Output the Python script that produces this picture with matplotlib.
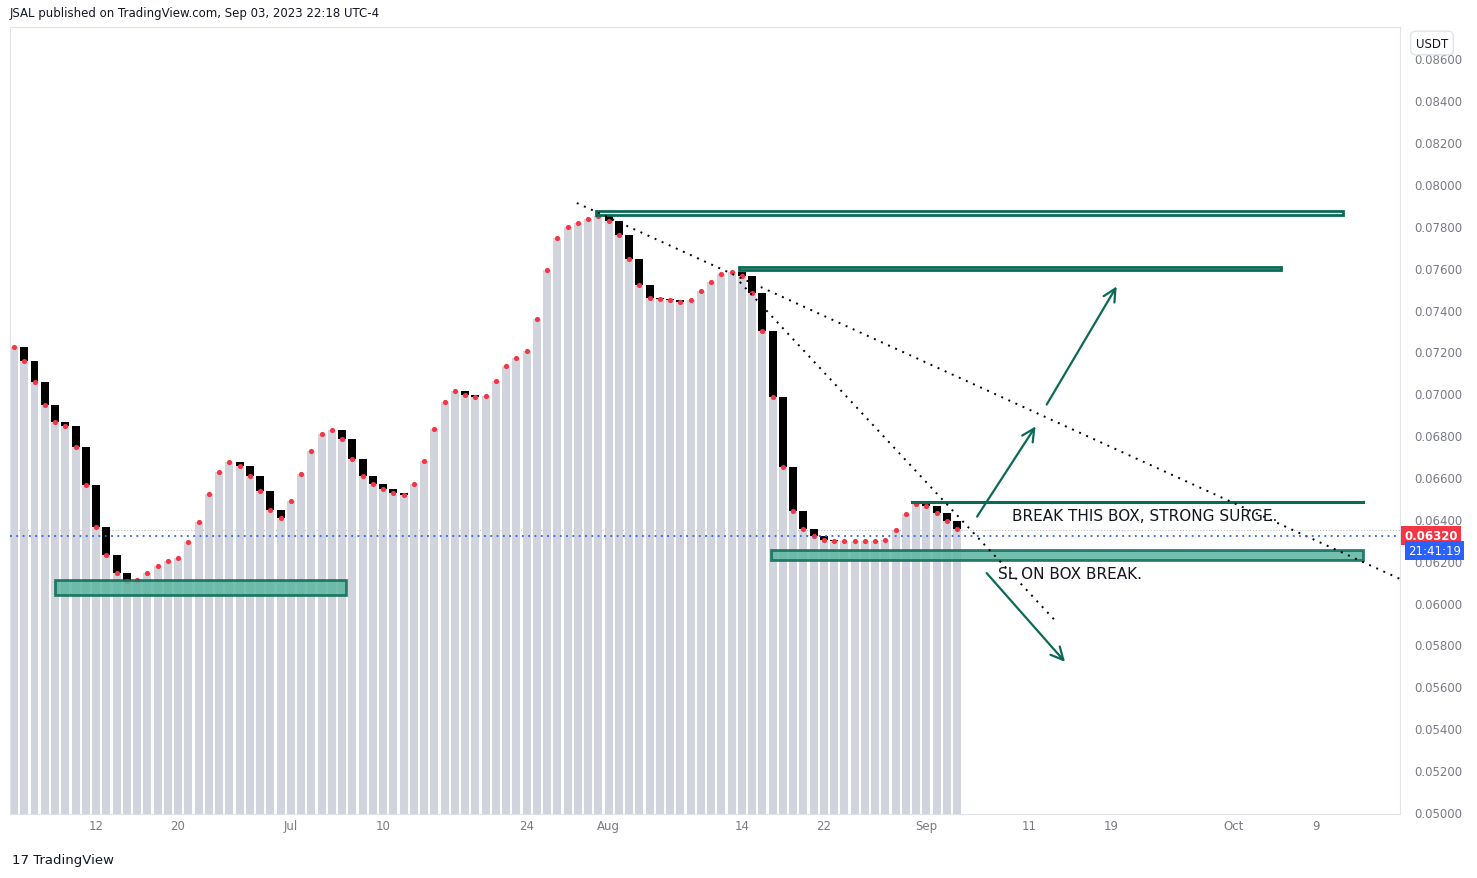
import matplotlib
matplotlib.use("Agg")
import matplotlib.pyplot as plt
from matplotlib.patches import Rectangle, FancyBboxPatch
import numpy as np

# day index relative to Jun 12, 2023
start_day = -8
closes = [0.07221,0.07154,0.07054,0.06944,0.06863,0.06844,0.06744,0.06562,0.06361,0.06228,
          0.06142,0.06103,0.06108,0.06142,0.06175,0.06199,0.06213,0.06290,0.06385,0.06519,
          0.06624,0.06672,0.06653,0.06605,0.06533,0.06443,0.06404,0.06486,0.06615,0.06725,
          0.06806,0.06825,0.06782,0.06686,0.06605,0.06567,0.06543,0.06524,0.06514,0.06567,
          0.06677,0.06830,0.06959,0.07011,0.06992,0.06982,0.06987,0.07059,0.07131,0.07169,
          0.07202,0.07355,0.07589,0.07742,0.07795,0.07814,0.07833,0.07847,0.07823,0.07756,
          0.07642,0.07518,0.07455,0.07450,0.07446,0.07436,0.07446,0.07489,0.07532,0.07570,
          0.07580,0.07560,0.07479,0.07298,0.06982,0.06648,0.06438,0.06352,0.06318,0.06299,
          0.06295,0.06295,0.06295,0.06295,0.06295,0.06299,0.06347,0.06424,0.06471,0.06462,
          0.06428,0.06390,0.06352]
opens = [closes[0]] + closes[:-1]
tick_days = [0, 8, 19, 28, 42, 50, 63, 71, 81, 91, 99, 111, 119]
tick_labels = ["12", "20", "Jul", "10", "24", "Aug", "14", "22", "Sep", "11", "19", "Oct", "9"]
price_ticks = np.arange(0.050, 0.0861, 0.002)
last_price = 0.06320

GRAY = "#d1d4dc"; GREEN_E = "#0b6a55"; GREEN_F = "#5cb5a2"

fig = plt.figure(figsize=(14.77, 8.79), dpi=100)
ax = fig.add_axes([10/1477, 64/879, 1390/1477, 787/879])
ax.set_xlim(-8.39, 127.2)
ax.set_ylim(0.0499, 0.0875)

days = np.arange(start_day, start_day + len(closes))
ax.bar(days, closes, width=0.78, color=GRAY, bottom=0, zorder=1)
for d, o, c in zip(days, opens, closes):
    if o > c:
        ax.bar(d, o - c, bottom=c, width=0.78, color="black", zorder=2)
ax.scatter(days, closes, s=14, color="#f23645", zorder=3, linewidths=0)

# boxes
def box(x0, x1, y0, y1, fill=True, lw=2):
    ax.add_patch(Rectangle((x0, y0), x1 - x0, y1 - y0, facecolor=GREEN_F if fill else "white",
                           edgecolor=GREEN_E, lw=lw, alpha=1 if not fill else 0.85, zorder=4))
box(-4, 24.4, 0.06037, 0.06108)
box(48.8, 121.6, 0.07852, 0.07871, fill=False)
box(62.7, 115.6, 0.07589, 0.07603, fill=False)
box(65.8, 123.6, 0.06204, 0.06252)
ax.plot([79.6, 123.6], [0.06481, 0.06481], color=GREEN_E, lw=2.2, zorder=4)

# trend lines
ax.plot([46.9, 127.2], [0.07909, 0.06113], ls=(0, (1, 3)), color="black", lw=1.4, zorder=5)
ax.plot([62.8, 93.6], [0.07532, 0.05912], ls=(0, (1, 3)), color="black", lw=1.4, zorder=5)

# arrows
for (x0, y0, x1, y1) in [(85.8, 0.06400, 91.8, 0.06853), (92.6, 0.06935, 99.7, 0.07522),
                         (86.7, 0.06151, 94.7, 0.05707)]:
    ax.annotate("", xy=(x1, y1), xytext=(x0, y0),
                arrowprops=dict(arrowstyle="->,head_length=0.9,head_width=0.45", color=GREEN_E, lw=1.6),
                zorder=6)

ax.text(89.4, 0.06414, "BREAK THIS BOX, STRONG SURGE.", fontsize=11, family="DejaVu Sans",
        va="center", ha="left", color="#131722", zorder=7)
ax.text(88.0, 0.06137, "SL ON BOX BREAK.", fontsize=11, va="center", ha="left", color="#131722", zorder=7)

# last price line
ax.axhline(last_price, color="#2962ff", ls=(0, (1, 2.5)), lw=1.3, zorder=5)
ax.axhline(0.06347, color="#b2b5be", ls=(0, (1, 2)), lw=0.7, zorder=0)

# axes styling
for s in ax.spines.values():
    s.set_color("#e0e3eb")
ax.yaxis.tick_right()
ax.set_yticks(price_ticks)
ax.set_yticklabels([f"{p:.5f}" for p in price_ticks])
ax.set_xticks(tick_days)
ax.set_xticklabels(tick_labels)
ax.tick_params(axis="both", length=0, labelsize=8.5, labelcolor="#787b86")
ax.tick_params(axis="y", pad=10)

# price tags
ax.text(1.003, (last_price - 0.0499) / (0.0875 - 0.0499), f"{last_price:.5f}", transform=ax.transAxes,
        fontsize=8.5, color="white", fontweight="bold", va="center", ha="left",
        bbox=dict(boxstyle="square,pad=0.25", fc="#f23645", ec="none"))
ax.text(1.006, (last_price - 0.0499) / (0.0875 - 0.0499) - 0.019, "21:41:19", transform=ax.transAxes,
        fontsize=8.5, color="white", va="center", ha="left",
        bbox=dict(boxstyle="square,pad=0.25", fc="#2962ff", ec="none"))
fig.text(1432/1477, 1 - 44/879, "USDT", fontsize=8.5, ha="center", va="center", color="#131722",
         bbox=dict(boxstyle="round,pad=0.45", fc="white", ec="#e0e3eb"))

fig.text(10/1477, 1 - 14/879, "JSAL published on TradingView.com, Sep 03, 2023 22:18 UTC-4",
         fontsize=8.5, va="center", color="#131722")
fig.text(12/1477, 1 - 861/879, "17 TradingView", fontsize=9.5, va="center", color="#131722")

fig.savefig("out.png", dpi=100)
